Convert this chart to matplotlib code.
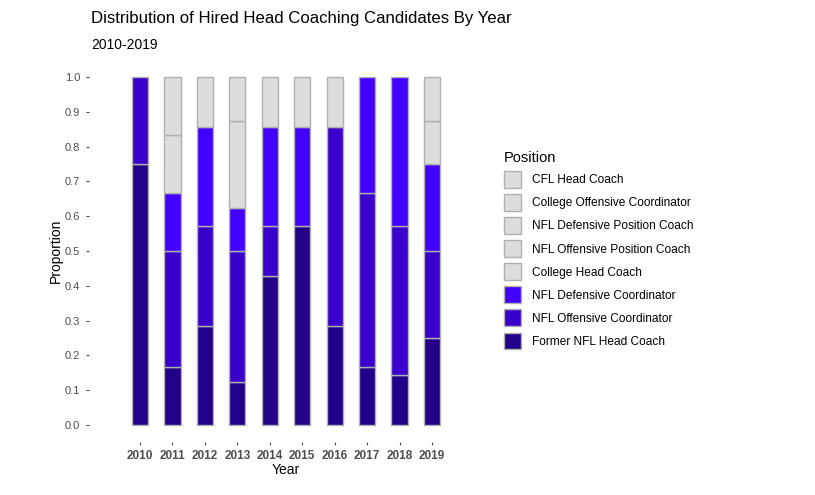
import matplotlib

matplotlib.use("Agg")
import matplotlib.pyplot as plt
import numpy as np
from matplotlib.patches import Patch

plt.rcParams["font.family"] = ["Liberation Sans", "DejaVu Sans"]

years = ["2010", "2011", "2012", "2013", "2014", "2015", "2016", "2017", "2018", "2019"]

# hires per year by previous position (stack order: bottom -> top)
former_nfl_hc = [3, 1, 2, 1, 3, 4, 2, 1, 1, 2]
nfl_oc = [1, 2, 2, 3, 1, 0, 4, 3, 3, 2]
nfl_dc = [0, 1, 2, 1, 2, 2, 0, 2, 3, 2]
college_hc = [0, 1, 1, 2, 0, 0, 1, 0, 0, 1]
nfl_off_pos = [0, 0, 0, 0, 0, 0, 0, 0, 0, 1]
nfl_def_pos = [0, 0, 0, 0, 1, 1, 0, 0, 0, 0]
college_oc = [0, 0, 0, 1, 0, 0, 0, 0, 0, 0]
cfl_hc = [0, 1, 0, 0, 0, 0, 0, 0, 0, 0]

series = [
    ("Former NFL Head Coach", former_nfl_hc, "#22008a"),
    ("NFL Offensive Coordinator", nfl_oc, "#3a00cc"),
    ("NFL Defensive Coordinator", nfl_dc, "#4400ff"),
    ("College Head Coach", college_hc, "#dddddd"),
    ("NFL Offensive Position Coach", nfl_off_pos, "#dddddd"),
    ("NFL Defensive Position Coach", nfl_def_pos, "#dddddd"),
    ("College Offensive Coordinator", college_oc, "#dddddd"),
    ("CFL Head Coach", cfl_hc, "#dddddd"),
]

EDGE = "#b0b0b0"

fig = plt.figure(figsize=(8.15, 4.95), dpi=100)
ax = fig.add_axes([89 / 815, 1 - 442.4 / 495, (483 - 89) / 815, (442.4 - 59.6) / 495])

counts = np.array([s[1] for s in series], dtype=float)
props = counts / counts.sum(axis=0)
x = np.arange(len(years))
bottom = np.zeros(len(years))
for (name, _, color), p in zip(series, props):
    m = p > 0
    ax.bar(x[m], p[m], bottom=bottom[m], width=0.5, color=color,
           edgecolor=EDGE, linewidth=1.0)
    bottom += p

ax.set_xlim(-51 / 32.4, len(years) - 1 + 51 / 32.4)
ax.set_ylim(-0.05, 1.05)
ax.set_xticks(x)
ax.set_xticklabels(years, fontsize=8.5, fontweight="bold", color="#4d4d4d")
yt = np.arange(0, 1.01, 0.1)
ax.set_yticks(yt)
ax.set_yticklabels([f"{v:.1f}" for v in yt], fontsize=8, color="#4d4d4d")
ax.tick_params(axis="both", length=2.5, width=0.8, color="#4d4d4d")
ax.tick_params(axis="y", pad=4)
ax.tick_params(axis="x", pad=3)
for s in ax.spines.values():
    s.set_visible(False)
ax.set_xlabel("Year", fontsize=10, labelpad=1)
ax.set_ylabel("Proportion", fontsize=10, labelpad=1)

fig.text(91 / 815, 1 - 19 / 495, "Distribution of Hired Head Coaching Candidates By Year",
         fontsize=12.1, va="center", ha="left")
fig.text(91 / 815, 1 - 45 / 495, "2010-2019", fontsize=10, va="center", ha="left")

handles = [Patch(facecolor=c, edgecolor=EDGE, linewidth=1.0) for _, _, c in series[::-1]]
labels = [n for n, _, _ in series[::-1]]
leg = fig.legend(handles, labels, title="Position", loc="upper left",
                 bbox_to_anchor=(499 / 815, 1 - 146 / 495), frameon=False,
                 fontsize=8.6, title_fontsize=10.5, handlelength=1.45, handleheight=1.76,
                 labelspacing=0.54, handletextpad=0.95, borderaxespad=0)
leg._legend_box.align = "left"

fig.savefig("out.png", dpi=100)
